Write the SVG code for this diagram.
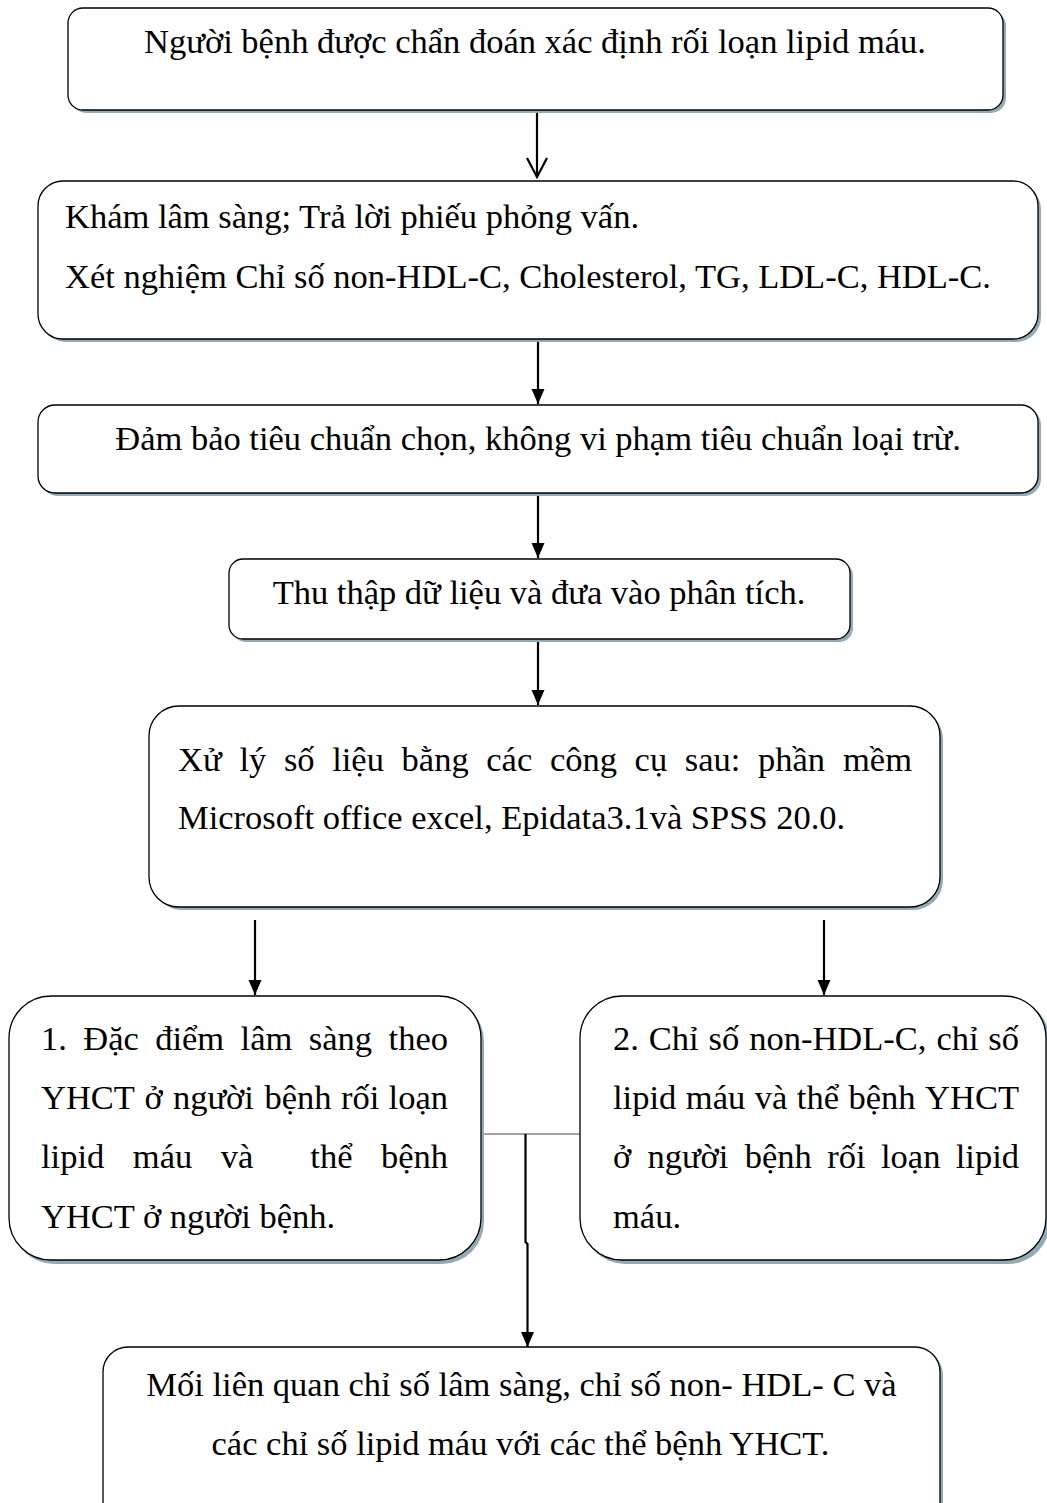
<svg xmlns="http://www.w3.org/2000/svg" width="1047" height="1503" viewBox="0 0 1047 1503">
<defs>
<style>
.sh{fill:#93abb5;stroke:none}
.bx{fill:#fff;stroke:#000;stroke-width:1.3}
.t{font-family:"Liberation Serif","Times New Roman",serif;font-size:34.5px;fill:#000}
.c{text-anchor:middle}
.e{text-anchor:end}
.ar{stroke:#000;stroke-width:2.2;fill:none}
.th{stroke:#444;stroke-width:1.2;fill:none}
</style>
<marker id="ah" markerUnits="userSpaceOnUse" markerWidth="16" markerHeight="14" refX="15" refY="6.5" orient="auto" viewBox="0 0 16 14">
<path d="M0,0 L15,6.5 L0,13 Z" fill="#000"/>
</marker>
<marker id="av" markerUnits="userSpaceOnUse" markerWidth="22" markerHeight="24" refX="20" refY="11" orient="auto" viewBox="0 0 22 24">
<path d="M1,1 L20,11 L1,21" fill="none" stroke="#000" stroke-width="2.2"/>
</marker>
</defs>
<rect width="1047" height="1503" fill="#fff"/>

<g id="connectors">
<line class="ar" x1="537" y1="110" x2="537" y2="177" marker-end="url(#av)"/>
<line class="ar" x1="538" y1="339" x2="538" y2="404" marker-end="url(#ah)"/>
<line class="ar" x1="538" y1="493" x2="538" y2="558" marker-end="url(#ah)"/>
<line class="ar" x1="538" y1="639" x2="538" y2="705" marker-end="url(#ah)"/>
<line class="ar" x1="255" y1="920" x2="255" y2="995" marker-end="url(#ah)"/>
<line class="ar" x1="824" y1="920" x2="824" y2="995" marker-end="url(#ah)"/>
<line class="th" x1="481" y1="1134" x2="581" y2="1134"/>
<polyline class="ar" points="525.5,1134 525.5,1242 527.5,1244 527.5,1347" marker-end="url(#ah)"/>
</g>

<g id="n1">
<rect class="sh" x="71" y="11" width="935" height="102" rx="15"/>
<rect class="bx" x="68" y="8" width="935" height="102" rx="15"/>
<text class="t c" x="535" y="53">Người bệnh được chẩn đoán xác định rối loạn lipid máu.</text>
</g>

<g id="n2">
<rect class="sh" x="41" y="184" width="1000" height="158" rx="25"/>
<rect class="bx" x="38" y="181" width="1000" height="158" rx="25"/>
<text class="t" x="65" y="228">Khám lâm sàng; Trả lời phiếu phỏng vấn.</text>
<text class="t" x="65" y="288">Xét nghiệm Chỉ số non-HDL-C, Cholesterol, TG, LDL-C, HDL-C.</text>
</g>

<g id="n3">
<rect class="sh" x="41" y="408" width="1000" height="88" rx="17"/>
<rect class="bx" x="38" y="405" width="1000" height="88" rx="17"/>
<text class="t c" x="538" y="450">Đảm bảo tiêu chuẩn chọn, không vi phạm tiêu chuẩn loại trừ.</text>
</g>

<g id="n4">
<rect class="sh" x="232" y="562" width="621" height="80" rx="14"/>
<rect class="bx" x="229" y="559" width="621" height="80" rx="14"/>
<text class="t c" x="539" y="604">Thu thập dữ liệu và đưa vào phân tích.</text>
</g>

<g id="n5">
<rect class="sh" x="152" y="709" width="791" height="201" rx="30"/>
<rect class="bx" x="149" y="706" width="791" height="201" rx="30"/>
<text class="t" y="771"><tspan x="178">Xử</tspan><tspan x="239.5">lý</tspan><tspan x="283.9">số</tspan><tspan x="332.2">liệu</tspan><tspan x="401.6">bằng</tspan><tspan x="486.3">các</tspan><tspan x="549.9">công</tspan><tspan x="634.6">cụ</tspan><tspan x="684.8">sau:</tspan><tspan x="758">phần</tspan></text>
<text class="t e" x="912" y="771">mềm</text>
<text class="t" x="178" y="829">Microsoft office excel, Epidata3.1và SPSS 20.0.</text>
</g>

<g id="n6">
<rect class="sh" x="12" y="999" width="472" height="265" rx="42"/>
<rect class="bx" x="9" y="996" width="472" height="264" rx="42"/>
<text class="t" y="1050"><tspan x="41">1.</tspan><tspan x="83.3">Đặc</tspan><tspan x="155.2">điểm</tspan><tspan x="240.6">lâm</tspan><tspan x="308.8">sàng</tspan></text>
<text class="t e" x="448" y="1050">theo</text>
<text class="t" y="1109"><tspan x="41">YHCT</tspan><tspan x="144.4">ở</tspan><tspan x="172.9">người</tspan><tspan x="264.4">bệnh</tspan><tspan x="341">rối</tspan></text>
<text class="t e" x="448" y="1109">loạn</text>
<text class="t" y="1168"><tspan x="41">lipid</tspan><tspan x="132.8">máu</tspan><tspan x="220.7">và</tspan><tspan x="310.3">thể</tspan></text>
<text class="t e" x="448" y="1168">bệnh</text>
<text class="t" x="41" y="1228">YHCT ở người bệnh.</text>
</g>

<g id="n7">
<rect class="sh" x="583" y="999" width="467" height="265" rx="42"/>
<rect class="bx" x="580" y="996" width="466" height="264" rx="42"/>
<text class="t" y="1050"><tspan x="613">2.</tspan><tspan x="648.8">Chỉ</tspan><tspan x="708.6">số</tspan><tspan x="749.2">non-HDL-C,</tspan><tspan x="936.4">chỉ</tspan></text>
<text class="t e" x="1019" y="1050">số</text>
<text class="t" y="1109"><tspan x="613">lipid</tspan><tspan x="685.8">máu</tspan><tspan x="754.7">và</tspan><tspan x="796.8">thể</tspan><tspan x="848.5">bệnh</tspan></text>
<text class="t e" x="1019" y="1109">YHCT</text>
<text class="t" y="1168"><tspan x="613">ở</tspan><tspan x="647.4">người</tspan><tspan x="744.8">bệnh</tspan><tspan x="827.3">rối</tspan><tspan x="881">loạn</tspan></text>
<text class="t e" x="1019" y="1168">lipid</text>
<text class="t" x="613" y="1228">máu.</text>
</g>

<g id="n8">
<rect class="sh" x="106" y="1350" width="837" height="200" rx="25"/>
<rect class="bx" x="103" y="1347" width="837" height="200" rx="25"/>
<text class="t c" x="521.5" y="1396">Mối liên quan chỉ số lâm sàng, chỉ số non- HDL- C và</text>
<text class="t c" x="520.5" y="1455">các chỉ số lipid máu với các thể bệnh YHCT.</text>
</g>
</svg>
